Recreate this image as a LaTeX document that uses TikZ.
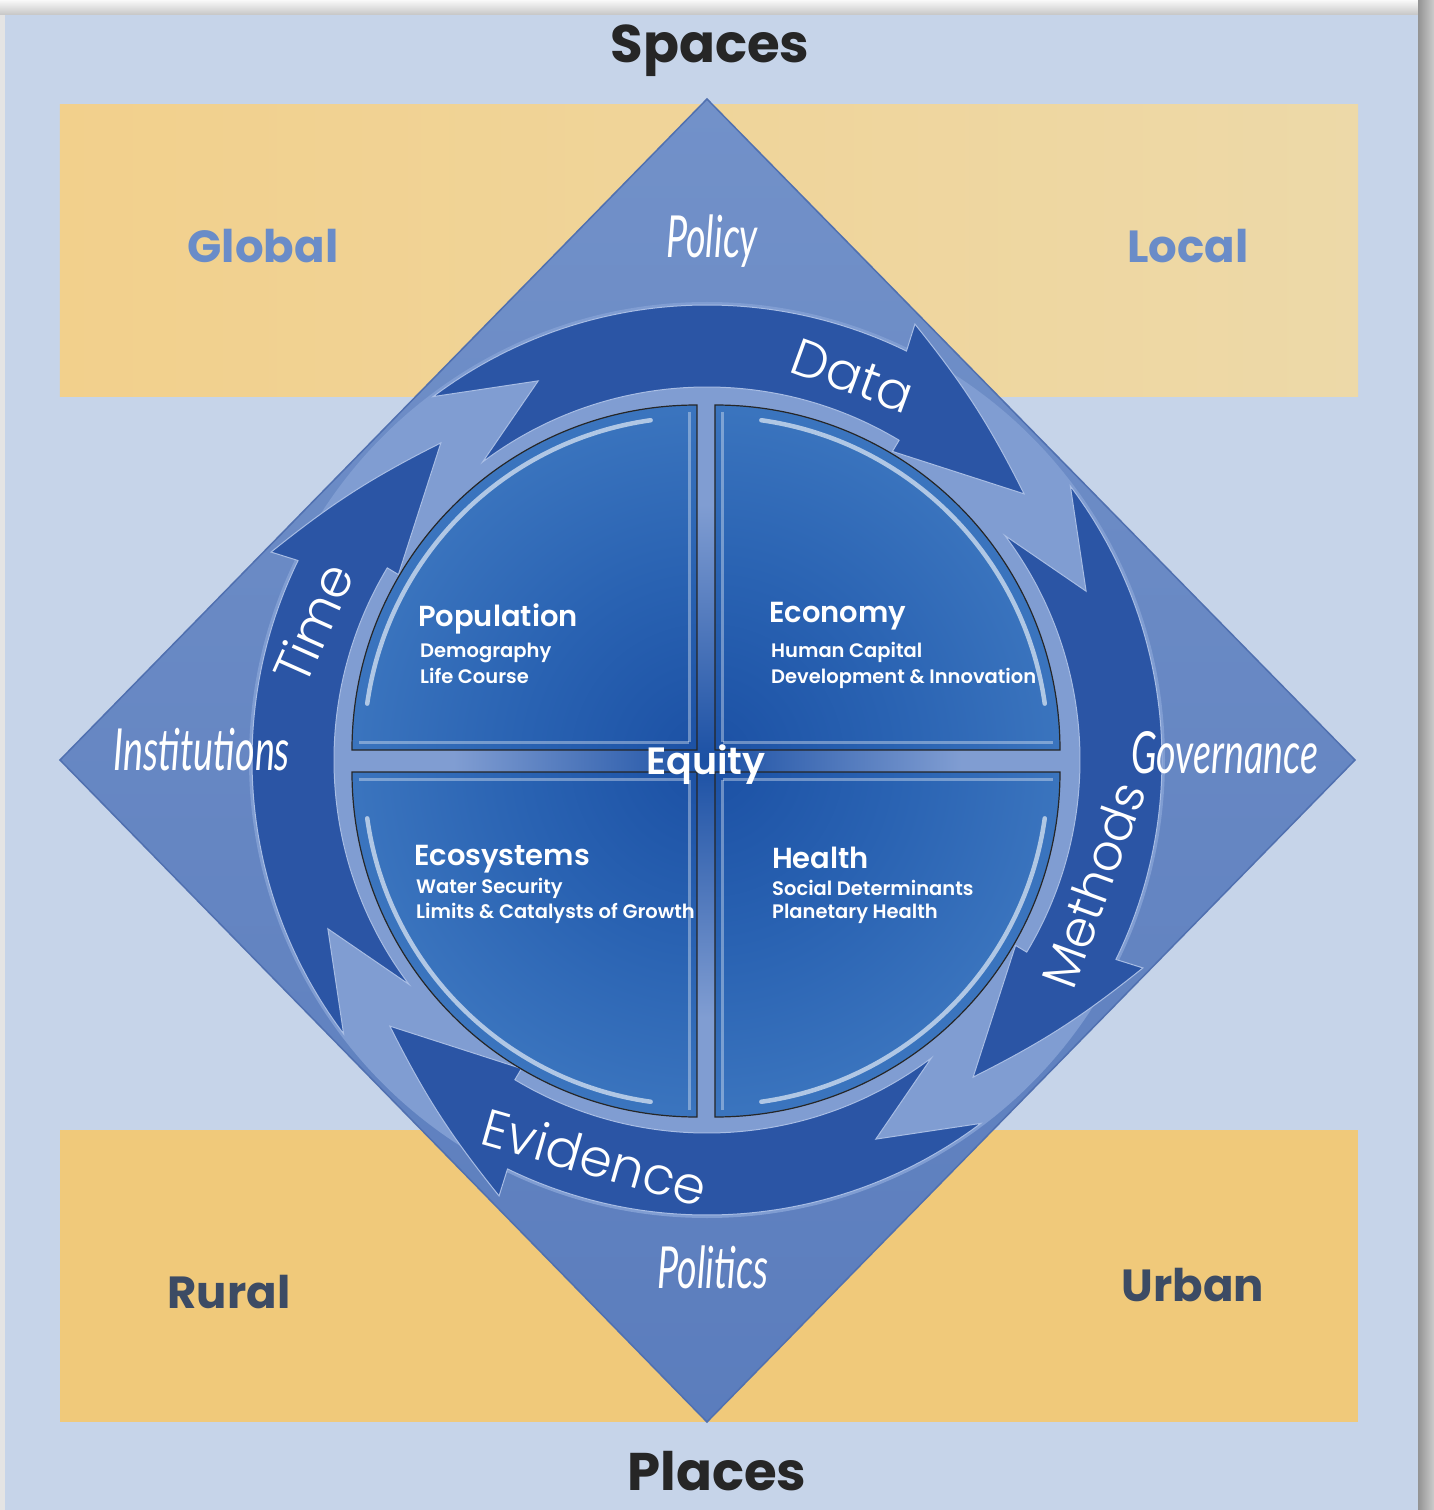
\documentclass[tikz,border=0pt]{standalone}
\usepackage{fontspec}
\usetikzlibrary{calc}
\newfontfamily\cg{Poppins}
\newfontfamily\cgl{Poppins Light}
\newfontfamily\cgsb{Poppins SemiBold}
\newfontfamily\gs{Lato}
\definecolor{pagegray}{HTML}{E4E4E4}
\definecolor{panel}{HTML}{C6D4E9}
\definecolor{yel}{HTML}{F0C97A}
\definecolor{yelL}{HTML}{F2D08C}
\definecolor{yelR}{HTML}{EDD9A8}
\definecolor{diaTop}{HTML}{7291C9}
\definecolor{diaBot}{HTML}{5B7DBD}
\definecolor{diaEdge}{HTML}{5070B0}
\definecolor{band}{HTML}{809DD2}
\definecolor{arrowdark}{HTML}{2B55A5}
\definecolor{arrowline}{HTML}{A8BDE4}
\definecolor{qdark}{HTML}{1B50A4}
\definecolor{qmid}{HTML}{2962B2}
\definecolor{qlight}{HTML}{3D77C0}
\definecolor{blueText}{HTML}{6A8CC8}
\definecolor{slateText}{HTML}{3C4B64}
\definecolor{titleText}{HTML}{262626}
\pgfdeclareradialshading{quadshade}{\pgfpoint{0bp}{0bp}}{color(0bp)=(qdark); color(12bp)=(qmid); color(25bp)=(qlight); color(50bp)=(qlight)}
\pgfdeclarehorizontalshading{gapH}{100bp}{color(0bp)=(band); color(32bp)=(band); color(50bp)=(qdark); color(68bp)=(band); color(100bp)=(band)}
\pgfdeclareverticalshading{gapV}{100bp}{color(0bp)=(band); color(32bp)=(band); color(50bp)=(qdark); color(68bp)=(band); color(100bp)=(band)}
\newcommand{\ringarrow}[1]{%
  \fill[arrowdark, draw=arrowline, line width=1]
    ({#1+87}:455) arc[start angle={#1+87}, end angle={#1+24}, radius=455]
    -- ({#1+24.5}:483) to[bend left=6] ({#1}:414) -- ({#1+19}:360) -- ({#1+19}:373)
    arc[start angle={#1+19}, end angle={#1+87}, radius=373]
    -- ({#1+74}:415) -- cycle;}
\newcommand{\quadrant}[3]{%
  \begin{scope}
    \clip (#1,#2) -- ++(#3:345) arc[start angle=#3, delta angle=90, radius=345] -- cycle;
    \shade[shading=quadshade] (0,0) circle (380);
    \draw[white, opacity=0.35, line width=3] ($(#1,#2)+({#3+45}:11.3)$) -- ++(#3:330);
    \draw[white, opacity=0.35, line width=3] ($(#1,#2)+({#3+45}:11.3)$) -- ++({#3+90}:330);
    \draw[white, opacity=0.6, line width=4.5, line cap=round] ($(#1,#2)+({#3+8}:333)$) arc[start angle={#3+8}, delta angle=74, radius=333];
  \end{scope}
  \draw[black!85, line width=1.2] (#1,#2) -- ++(#3:345) arc[start angle=#3, delta angle=90, radius=345] -- cycle;}
\begin{document}
\begin{tikzpicture}[x=1pt,y=1pt,
  titletext/.style={font=\cg\bfseries\fontsize{53}{60}\selectfont, text=titleText, anchor=base, inner sep=0},
  zone/.style={font=\cg\bfseries\fontsize{45}{54}\selectfont, anchor=base, inner sep=0},
  gill/.style={font=\gs\itshape\fontsize{58}{66}\selectfont, text=white, xscale=0.65, anchor=base, inner sep=0},
  ringlbl/.style={font=\cgl\fontsize{52}{60}\selectfont, text=white, inner sep=0},
  qhead/.style={font=\cgsb\fontsize{29}{34}\selectfont, text=white, anchor=base west, inner sep=0},
  qsub/.style={font=\cgsb\fontsize{19.5}{24}\selectfont, text=white, anchor=base west, inner sep=0}]
\useasboundingbox (-707,-750) rectangle (727,760);
% frame
\fill[pagegray] (-707,-750) rectangle (727,760);
\shade[top color=gray!5, bottom color=gray!45] (-707,745) rectangle (727,760);
\shade[left color=gray!85, right color=gray!40] (711,-750) rectangle (727,760);
\fill[panel] (-702,-750) rectangle (711,745);
% yellow bands
\shade[left color=yelL, middle color=yel, right color=yelR] (-647,363) rectangle (651,655);
\fill[yel] (-647,-662) rectangle (651,-370);
% diamond
\shadedraw[top color=diaTop, bottom color=diaBot, draw=diaEdge, line width=1.5] (0,661) -- (648,0) -- (0,-662) -- (-647,0) -- cycle;
% ring
\fill[band] (0,0) circle (458);
\ringarrow{40}
\ringarrow{-50}
\ringarrow{-140}
\ringarrow{130}
% cross gap
\shade[shading=gapH] (-352,-12) rectangle (353,10);
\shade[shading=gapV] (-10,-357) rectangle (8,355);
% quadrants
\quadrant{-10}{10}{90}
\quadrant{8}{10}{0}
\quadrant{-10}{-12}{180}
\quadrant{8}{-12}{270}
% titles
\node[titletext] (spaces) at (3,697) {Spaces};
\node[titletext] (places) at (10,-730) {Places};
\node[zone, text=blueText] (global) at (-444,497) {Global};
\node[zone, text=blueText] (local) at (481,497) {Local};
\node[zone, text=slateText] (rural) at (-478,-548) {Rural};
\node[zone, text=slateText] (urban) at (486,-541) {Urban};
% diamond corners
\node[gill] (policy) at (5,502) {Policy};
\node[gill] (institutions) at (-505,-10) {Institutions};
\node[gill] (governance) at (518,-13) {Governance};
\node[gill] (politics) at (6,-528) {Politics};
% ring labels
\node[ringlbl, rotate=-20] (data) at (146,384) {Data};
\node[ringlbl, rotate=66] (time) at (-394,137) {Time};
\node[ringlbl, rotate=70, font=\cgl\fontsize{50}{58}\selectfont] (methods) at (386,-125) {Methods};
\node[ringlbl, rotate=-16] (evidence) at (-112,-397) {Evidence};
% quadrant texts
\node[qhead] (pop) at (-289,133) {Population};
\node[qsub] (pop1) at (-287,102) {Demography};
\node[qsub] (pop2) at (-287,77) {Life Course};
\node[qhead] (eco) at (62,137) {Economy};
\node[qsub] (eco1) at (64,102) {Human Capital};
\node[qsub] (eco2) at (64,77) {Development \& Innovation};
\node[qhead] (ecs) at (-293,-105) {Ecosystems};
\node[qsub] (ecs1) at (-291,-133) {Water Security};
\node[qsub] (ecs2) at (-291,-158) {Limits \& Catalysts of Growth};
\node[qhead] (hea) at (65,-108) {Health};
\node[qsub] (hea1) at (65,-135) {Social Determinants};
\node[qsub] (hea2) at (65,-158) {Planetary Health};
\node[font=\cgsb\fontsize{38}{44}\selectfont, text=white, anchor=base, inner sep=0] (equity) at (-1,-14) {Equity};
\end{tikzpicture}
\end{document}
